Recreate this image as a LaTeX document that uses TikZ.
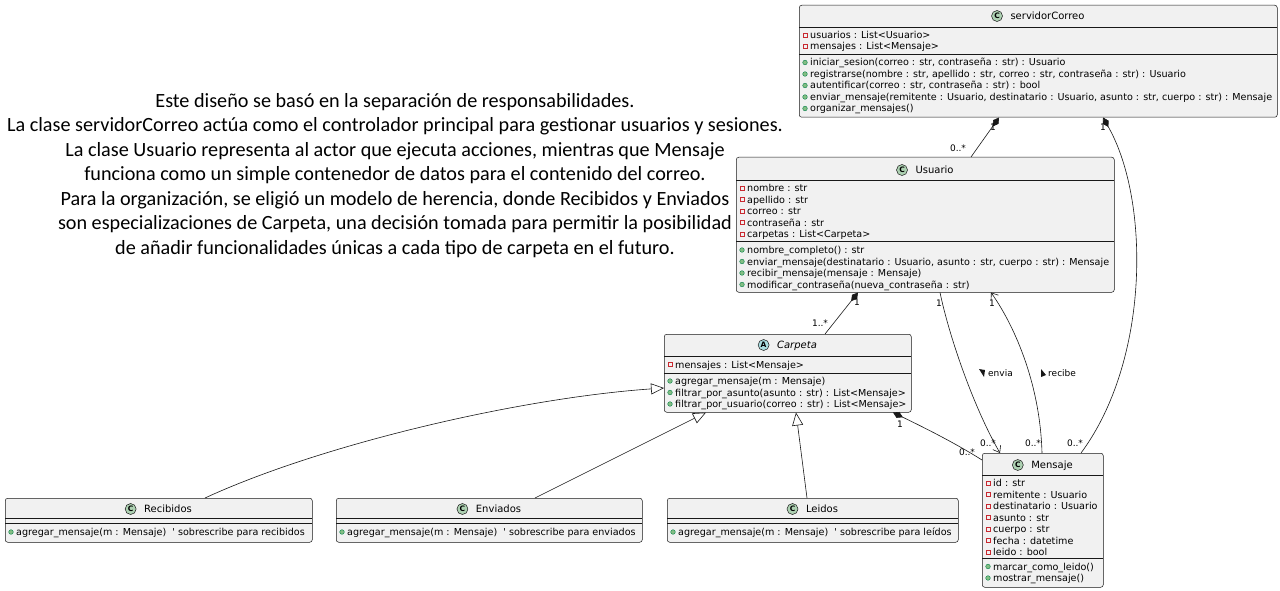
\documentclass[tikz,border=0pt]{standalone}
\usepackage{fontspec}
\usetikzlibrary{arrows.meta}
\newfontfamily\umlfont{DejaVu Sans}
\newfontfamily\notefont{Carlito}
\definecolor{boxfill}{HTML}{F1F1F1}
\definecolor{linec}{HTML}{181818}
\definecolor{cicon}{HTML}{ADD1B2}
\definecolor{aicon}{HTML}{A9DCDF}
\definecolor{privc}{HTML}{C82930}
\definecolor{pubf}{HTML}{84BE84}
\definecolor{pubd}{HTML}{038048}
\newcount\umlrow
\newcommand\umlbox[5]{\node[clsbox, minimum width={#4-#2}, minimum height={#5-#3}] (#1) at (#2,#3) {};}
\newcommand\umlsep[3]{\draw[sepline] (#1,#3) -- (#2,#3);}
\newcommand\umltitle[6]{\node[titletext] (#1) at (#2,#3+3.6) {#6};
  \node[iconnode, fill=#5] (#1icon) at ([xshift=-13.3pt,yshift=3.6pt]#1.base west) {#4};}
\newcommand\privrow[3]{\global\advance\umlrow by 1
  \draw[privicon] (#1+6-2.1,#2-2.1) rectangle (#1+6+2.1,#2+2.1);
  \node[rowtext] (row\the\umlrow) at (#1+11,#2+3.5) {#3};}
\newcommand\pubrow[3]{\global\advance\umlrow by 1
  \draw[pubicon] (#1+6,#2) circle (2.3);
  \node[rowtext] (row\the\umlrow) at (#1+11,#2+3.5) {#3};}
\tikzset{
  clsbox/.style={draw=linec, fill=boxfill, rounded corners=2.5pt, line width=0.5pt, inner sep=0pt, anchor=north west},
  sepline/.style={draw=linec, line width=0.5pt},
  titletext/.style={anchor=base, inner sep=0pt, font=\umlfont\fontsize{10}{12}\selectfont},
  iconnode/.style={circle, draw=linec, line width=0.5pt, minimum size=11pt, inner sep=0pt, font=\umlfont\fontsize{7.5}{8}\selectfont\bfseries},
  rowtext/.style={anchor=base west, inner sep=0pt, font=\umlfont\fontsize{9.6}{11}\selectfont},
  privicon/.style={draw=privc, line width=0.5pt},
  pubicon/.style={draw=pubd, fill=pubf, line width=0.4pt},
  elabel/.style={inner sep=0pt, font=\umlfont\fontsize{9}{10}\selectfont},
  edge/.style={draw=linec, line width=0.6pt},
  comp/.style={edge, {Diamond[length=11pt,width=6.5pt]}-},
  assoc/.style={edge, -{Straight Barb[length=6pt,width=9pt]}},
  inh/.style={edge, -{Triangle[open,length=13pt,width=11pt,fill=white]}},
  notetext/.style={align=center, inner sep=0pt, font=\notefont\fontsize{20.2}{24.5}\selectfont}
}
\begin{document}
\begin{tikzpicture}[x=1pt,y=-1pt]
\useasboundingbox (0,0) rectangle (1280,591);
\fill[white] (0,0) rectangle (1280,591);

% note text
\node[notetext] (note) at (395,175.5) {Este diseño se basó en la separación de responsabilidades.\\
La clase servidorCorreo actúa como el controlador principal para gestionar usuarios y sesiones.\\
La clase Usuario representa al actor que ejecuta acciones, mientras que Mensaje\\
funciona como un simple contenedor de datos para el contenido del correo.\\
Para la organización, se eligió un modelo de herencia, donde Recibidos y Enviados\\
son especializaciones de Carpeta, una decisión tomada para permitir la posibilidad\\
de añadir funcionalidades únicas a cada tipo de carpeta en el futuro.};

% servidorCorreo
\umlbox{srv}{799}{5}{1277}{117}
\umltitle{srvT}{1047.5}{16}{C}{cicon}{servidorCorreo}
\umlsep{799}{1277}{27}
\umlsep{799}{1277}{54}
\privrow{799}{35}{usuarios : List<Usuario>}
\privrow{799}{46.5}{mensajes : List<Mensaje>}
\pubrow{799}{62.5}{iniciar\_sesion(correo : str, contraseña : str) : Usuario}
\pubrow{799}{74}{registrarse(nombre : str, apellido : str, correo : str, contraseña : str) : Usuario}
\pubrow{799}{85.5}{autentificar(correo : str, contraseña : str) : bool}
\pubrow{799}{97}{enviar\_mensaje(remitente : Usuario, destinatario : Usuario, asunto : str, cuerpo : str) : Mensaje}
\pubrow{799}{108.5}{organizar\_mensajes()}

% Usuario
\umlbox{usr}{736}{157}{1114}{292}
\umltitle{usrT}{934.5}{170}{C}{cicon}{Usuario}
\umlsep{736}{1114}{180}
\umlsep{736}{1114}{241.5}
\privrow{736}{188}{nombre : str}
\privrow{736}{199.5}{apellido : str}
\privrow{736}{211}{correo : str}
\privrow{736}{222.5}{contraseña : str}
\privrow{736}{234}{carpetas : List<Carpeta>}
\pubrow{736}{250}{nombre\_completo() : str}
\pubrow{736}{261.5}{enviar\_mensaje(destinatario : Usuario, asunto : str, cuerpo : str) : Mensaje}
\pubrow{736}{273}{recibir\_mensaje(mensaje : Mensaje)}
\pubrow{736}{284.5}{modificar\_contraseña(nueva\_contraseña : str)}

% Carpeta
\umlbox{carp}{664}{334}{911}{412}
\umltitle{carpT}{797}{345}{A}{aicon}{\itshape Carpeta}
\umlsep{664}{911}{356}
\umlsep{664}{911}{373}
\privrow{664}{364.5}{mensajes : List<Mensaje>}
\pubrow{664}{381}{agregar\_mensaje(m : Mensaje)}
\pubrow{664}{392.5}{filtrar\_por\_asunto(asunto : str) : List<Mensaje>}
\pubrow{664}{404}{filtrar\_por\_usuario(correo : str) : List<Mensaje>}

% Mensaje
\umlbox{msg}{982}{453}{1103}{587}
\umltitle{msgT}{1052}{465}{C}{cicon}{Mensaje}
\umlsep{982}{1103}{475}
\umlsep{982}{1103}{558.5}
\privrow{982}{483}{id : str}
\privrow{982}{494.5}{remitente : Usuario}
\privrow{982}{506}{destinatario : Usuario}
\privrow{982}{517.5}{asunto : str}
\privrow{982}{529}{cuerpo : str}
\privrow{982}{540.5}{fecha : datetime}
\privrow{982}{552}{leido : bool}
\pubrow{982}{566.5}{marcar\_como\_leido()}
\pubrow{982}{578}{mostrar\_mensaje()}

% Recibidos, Enviados, Leidos
\umlbox{rec}{5}{498}{312}{542}
\umltitle{recT}{168}{509}{C}{cicon}{Recibidos}
\umlsep{5}{312}{518}
\umlsep{5}{312}{523}
\pubrow{5}{532}{agregar\_mensaje(m : Mensaje)\ \ ' sobrescribe para recibidos}

\umlbox{env}{336}{498}{642}{542}
\umltitle{envT}{498.5}{509}{C}{cicon}{Enviados}
\umlsep{336}{642}{518}
\umlsep{336}{642}{523}
\pubrow{336}{532}{agregar\_mensaje(m : Mensaje)\ \ ' sobrescribe para enviados}

\umlbox{lei}{667}{498}{958}{542}
\umltitle{leiT}{822}{509}{C}{cicon}{Leidos}
\umlsep{667}{958}{518}
\umlsep{667}{958}{523}
\pubrow{667}{532}{agregar\_mensaje(m : Mensaje)\ \ ' sobrescribe para leídos}

% connectors
\draw[comp] ([xshift=200pt]srv.south west) -- ([xshift=235pt]usr.north west);
\node[elabel] (m1a) at (993,127) {1};
\node[elabel] (m1b) at (958,148) {0..*};

\draw[comp] ([xshift=304pt]srv.south west) .. controls (1150,200) and (1150,360) .. ([xshift=99pt]msg.north west);
\node[elabel] (m2a) at (1103,127) {1};
\node[elabel] (m2b) at (1075,443) {0..*};

\draw[comp] ([xshift=122pt]usr.south west) -- ([xshift=161pt]carp.north west);
\node[elabel] (m3a) at (857,302) {1};
\node[elabel] (m3b) at (820,323) {1..*};

\draw[assoc] ([xshift=204pt]usr.south west) .. controls (950,340) and (975,410) .. ([xshift=18pt]msg.north west);
\node[elabel] (m4a) at (939,303) {1};
\node[elabel] (m4b) at (988,443) {0..*};
\fill[linec] (979,369) -- (985,370) -- (984,377) -- cycle;
\node[elabel, anchor=west] (envia) at (988,373) {envia};

\draw[assoc] ([xshift=60pt]msg.north west) .. controls (1040,380) and (1012,322) .. ([xshift=255pt]usr.south west);
\node[elabel] (m5a) at (992,303) {1};
\node[elabel] (m5b) at (1033,443) {0..*};
\fill[linec] (1041,369) -- (1041,377) -- (1046,375) -- cycle;
\node[elabel, anchor=west] (recibe) at (1048,373) {recibe};

\draw[comp] ([xshift=229pt]carp.south west) .. controls (925,428) and (955,443) .. ([yshift=-7pt]msg.north west);
\node[elabel] (m6a) at (900,424) {1};
\node[elabel] (m6b) at (967,452) {0..*};

\draw[inh] ([xshift=200pt]rec.north west) .. controls (322,444) and (520,398) .. ([yshift=-54pt]carp.north west);
\draw[inh] ([xshift=199pt]env.north west) -- ([xshift=42pt]carp.south west);
\draw[inh] ([xshift=140pt]lei.north west) -- ([xshift=132pt]carp.south west);
\end{tikzpicture}
\end{document}
